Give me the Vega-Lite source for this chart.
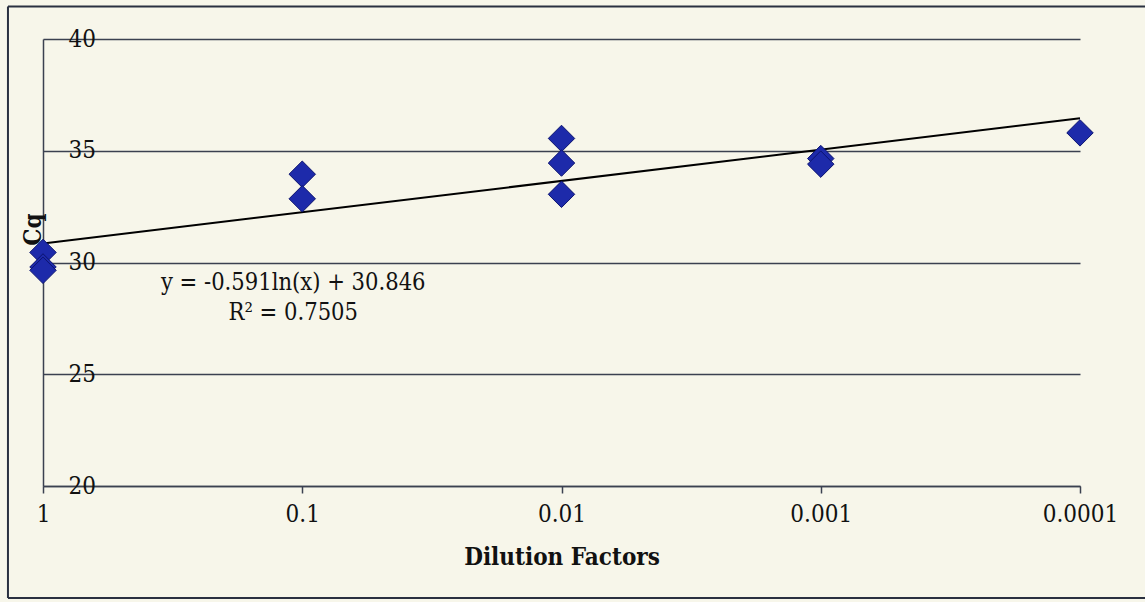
{
  "$schema": "https://vega.github.io/schema/vega-lite/v6.json",
  "width": 1037,
  "height": 447,
  "autosize": {"type": "none"},
  "padding": {"left": 43, "top": 39, "right": 65, "bottom": 116},
  "background": "#f7f6ea",
  "config": {
    "view": {"stroke": null},
    "font": "DejaVu Serif Condensed"
  },
  "datasets": {
    "points": [
      {"dilution": 1, "cq": 30.45},
      {"dilution": 1, "cq": 29.8},
      {"dilution": 1, "cq": 29.65},
      {"dilution": 0.1, "cq": 33.95},
      {"dilution": 0.1, "cq": 32.85},
      {"dilution": 0.01, "cq": 35.55},
      {"dilution": 0.01, "cq": 34.45},
      {"dilution": 0.01, "cq": 33.05},
      {"dilution": 0.001, "cq": 34.65},
      {"dilution": 0.001, "cq": 34.4},
      {"dilution": 0.0001, "cq": 35.8}
    ],
    "trend": [
      {"dilution": 1, "cq": 30.85},
      {"dilution": 0.0001, "cq": 36.45}
    ],
    "notes": [
      {"dilution": 0.1, "cq": 29.08, "label": "y = -0.591ln(x) + 30.846"},
      {"dilution": 0.1, "cq": 27.74, "label": "R² = 0.7505"}
    ],
    "frameH": [
      {"from": 1.365, "to": 0.0000535, "level": 41.45},
      {"from": 1.365, "to": 0.0000535, "level": 14.99}
    ],
    "frameV": [
      {"at": 1.365, "low": 14.99, "high": 41.45}
    ]
  },
  "encoding": {
    "x": {
      "field": "dilution",
      "type": "quantitative",
      "scale": {"type": "log", "domain": [0.0001, 1], "reverse": true},
      "axis": {
        "title": "Dilution Factors",
        "values": [1, 0.1, 0.01, 0.001, 0.0001],
        "format": ".4~f",
        "grid": false,
        "labelFlush": false,
        "labelBound": false,
        "domainColor": "#3b4150",
        "domainWidth": 1.5,
        "tickColor": "#3b4150",
        "tickWidth": 1.5,
        "tickSize": 7,
        "labelPadding": 9,
        "labelFontSize": 24,
        "labelColor": "#111111",
        "labelFont": "DejaVu Serif Condensed",
        "titleFont": "DejaVu Serif Condensed",
        "titleFontSize": 24,
        "titleFontWeight": "bold",
        "titleColor": "#111111",
        "titlePadding": 19
      }
    },
    "y": {
      "field": "cq",
      "type": "quantitative",
      "scale": {"domain": [20, 40]},
      "axis": {
        "title": "Cq",
        "values": [20, 25, 30, 35, 40],
        "grid": true,
        "gridColor": "#3b4150",
        "gridWidth": 1.5,
        "gridOpacity": 1,
        "domainColor": "#3b4150",
        "domainWidth": 1.5,
        "ticks": false,
        "labelPadding": -25,
        "labelAlign": "left",
        "labelBaseline": "middle",
        "labelFontSize": 24,
        "labelColor": "#111111",
        "labelFont": "DejaVu Serif Condensed",
        "titleFont": "DejaVu Serif Condensed",
        "titleFontSize": 24,
        "titleFontWeight": "bold",
        "titleColor": "#111111",
        "titleAngle": 270,
        "titleX": -10,
        "titleY": 190,
        "titleBaseline": "middle",
        "titleAlign": "center"
      }
    }
  },
  "layer": [
    {
      "data": {"name": "frameH"},
      "mark": {"type": "rule", "color": "#2a3040", "strokeWidth": 2, "clip": false},
      "encoding": {
        "x": {"field": "from", "type": "quantitative"},
        "x2": {"field": "to"},
        "y": {"field": "level", "type": "quantitative"}
      }
    },
    {
      "data": {"name": "frameV"},
      "mark": {"type": "rule", "color": "#2a3040", "strokeWidth": 2, "clip": false},
      "encoding": {
        "x": {"field": "at", "type": "quantitative"},
        "y": {"field": "low", "type": "quantitative"},
        "y2": {"field": "high"}
      }
    },
    {
      "data": {"name": "trend"},
      "mark": {"type": "line", "color": "#000000", "strokeWidth": 2}
    },
    {
      "data": {"name": "points"},
      "mark": {"type": "point", "shape": "diamond", "filled": true, "size": 700, "fill": "#1d2aaa", "stroke": "#0c1470", "strokeWidth": 1, "opacity": 1}
    },
    {
      "data": {"name": "notes"},
      "mark": {"type": "text", "fontSize": 23.5, "dx": -9, "color": "#111111", "font": "DejaVu Serif Condensed", "align": "center", "baseline": "middle"},
      "encoding": {"text": {"field": "label"}}
    }
  ]
}
